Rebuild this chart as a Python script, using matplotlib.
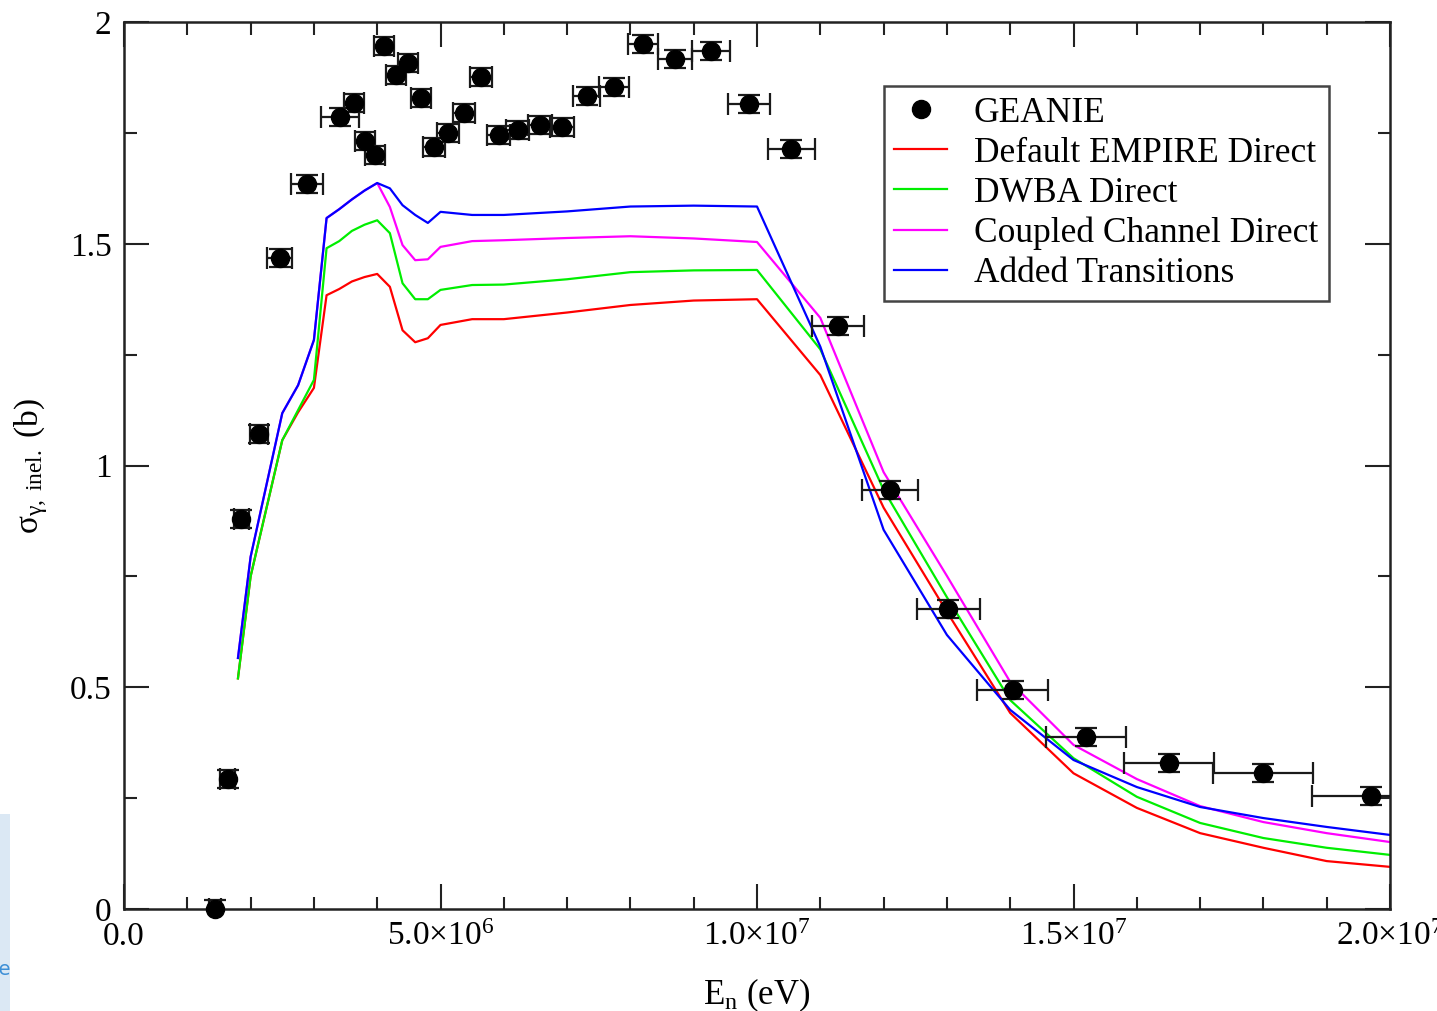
import matplotlib
matplotlib.use('Agg')
import matplotlib.pyplot as plt
from matplotlib.patches import Rectangle
from matplotlib.ticker import MultipleLocator, FixedLocator, FixedFormatter

plt.rcParams['font.family'] = 'Liberation Serif'
plt.rcParams['mathtext.fontset'] = 'custom'
plt.rcParams['mathtext.rm'] = 'Liberation Serif'
plt.rcParams['mathtext.it'] = 'Liberation Serif:italic'

# GEANIE measurement: neutron energy (MeV), half bin width (MeV), sigma (b), error (b)
geanie_e = [1.44, 1.64, 1.85, 2.13, 2.46, 2.89, 3.41, 3.63, 3.81, 3.97, 4.11, 4.30, 4.49,
            4.69, 4.90, 5.12, 5.37, 5.64, 5.92, 6.22, 6.57, 6.92, 7.31, 7.74, 8.20, 8.70,
            9.27, 9.87, 10.54, 11.28, 12.10, 13.02, 14.04, 15.20, 16.51, 18.00, 19.70]
geanie_de = [0.10, 0.12, 0.12, 0.14, 0.20, 0.25, 0.30, 0.16, 0.16, 0.16, 0.16, 0.16, 0.16,
             0.16, 0.17, 0.17, 0.17, 0.18, 0.18, 0.18, 0.19, 0.19, 0.21, 0.23, 0.24, 0.27,
             0.30, 0.33, 0.37, 0.41, 0.44, 0.50, 0.56, 0.63, 0.71, 0.79, 0.93]
geanie_sig = [0.000, 0.293, 0.879, 1.071, 1.468, 1.635, 1.786, 1.817, 1.732, 1.700, 1.946,
              1.880, 1.908, 1.829, 1.718, 1.750, 1.795, 1.876, 1.745, 1.756, 1.768, 1.763,
              1.833, 1.853, 1.950, 1.917, 1.935, 1.815, 1.714, 1.315, 0.945, 0.676, 0.494,
              0.388, 0.329, 0.307, 0.255]
geanie_dsig = [0.02] * len(geanie_e)

# EMPIRE calculations on the same energy grid (MeV)
e_calc = [1.8, 2.0, 2.5, 2.75, 3.0, 3.2, 3.4, 3.6, 3.8, 4.0, 4.2, 4.4, 4.6, 4.8, 5.0, 5.5,
          6.0, 7.0, 8.0, 9.0, 10.0, 11.0, 12.0, 13.0, 14.0, 15.0, 16.0, 17.0, 18.0, 19.0, 20.0]
sig_default = [0.52, 0.75, 1.057, 1.12, 1.175, 1.384, 1.398, 1.415, 1.425, 1.432, 1.403,
               1.305, 1.278, 1.287, 1.317, 1.330, 1.330, 1.345, 1.362, 1.372, 1.375, 1.204,
               0.905, 0.670, 0.442, 0.306, 0.228, 0.171, 0.138, 0.108, 0.095]
sig_dwba = [0.52, 0.75, 1.057, 1.125, 1.193, 1.490, 1.506, 1.529, 1.543, 1.553, 1.524,
            1.411, 1.375, 1.375, 1.396, 1.407, 1.408, 1.420, 1.436, 1.440, 1.441, 1.262,
            0.945, 0.703, 0.471, 0.340, 0.253, 0.194, 0.160, 0.138, 0.122]
sig_cc = [0.566, 0.794, 1.118, 1.181, 1.283, 1.558, 1.578, 1.600, 1.620, 1.637, 1.583,
          1.497, 1.463, 1.465, 1.493, 1.506, 1.508, 1.513, 1.517, 1.512, 1.504, 1.333,
          0.985, 0.751, 0.512, 0.370, 0.293, 0.232, 0.196, 0.171, 0.151]
sig_added = [0.566, 0.794, 1.118, 1.181, 1.283, 1.558, 1.578, 1.600, 1.620, 1.637, 1.625,
             1.587, 1.565, 1.547, 1.572, 1.565, 1.565, 1.573, 1.584, 1.586, 1.584, 1.268,
             0.855, 0.618, 0.449, 0.336, 0.275, 0.230, 0.205, 0.185, 0.167]

legend_labels = ['GEANIE', 'Default EMPIRE Direct', 'DWBA Direct',
                 'Coupled Channel Direct', 'Added Transitions']

x_ticks = [0.0, 5.0e6, 1.0e7, 1.5e7, 2.0e7]
x_ticklabels = ['0.0', r'$5.0{\times}10^{6}$', r'$1.0{\times}10^{7}$',
                r'$1.5{\times}10^{7}$', r'$2.0{\times}10^{7}$']
y_ticks = [0.0, 0.5, 1.0, 1.5, 2.0]
y_ticklabels = ['0', '0.5', '1', '1.5', '2']

MeV = 1.0e6
e_calc_ev = [e * MeV for e in e_calc]

fig = plt.figure(figsize=(14.37, 10.11), dpi=100)

# pale strip of the slide background at the lower left
fig.patches.append(Rectangle((0, 0), 0.007, 0.195, transform=fig.transFigure,
                             facecolor='#dbe8f4', edgecolor='none', zorder=0))
fig.text(0.0077, 0.036, 'ie', color='#3d8fd6', fontsize=14, ha='right',
         family='DejaVu Sans')

ax = fig.add_axes([0.0863, 0.1009, 0.881, 0.8773])

l_def, = ax.plot(e_calc_ev, sig_default, color='#ff0000', lw=1.6)
l_dwba, = ax.plot(e_calc_ev, sig_dwba, color='#00ee00', lw=1.6)
l_cc, = ax.plot(e_calc_ev, sig_cc, color='#ff00ff', lw=1.6)
l_add, = ax.plot(e_calc_ev, sig_added, color='#0000ff', lw=1.6)

eb = ax.errorbar([e * MeV for e in geanie_e], geanie_sig,
                 xerr=[d * MeV for d in geanie_de], yerr=geanie_dsig,
                 fmt='o', color='black', ms=13, ecolor='#1a1a1a', elinewidth=1.6,
                 capsize=8, capthick=1.6, zorder=5)
# markers may sit on the frame, the bars stop at it
eb[0].set_clip_on(False)

ax.set_xlim(0, 2.0e7)
ax.set_ylim(0, 2.0)

ax.xaxis.set_major_locator(FixedLocator(x_ticks))
ax.xaxis.set_major_formatter(FixedFormatter(x_ticklabels))
ax.xaxis.set_minor_locator(MultipleLocator(1.0e6))
ax.yaxis.set_major_locator(FixedLocator(y_ticks))
ax.yaxis.set_major_formatter(FixedFormatter(y_ticklabels))
ax.yaxis.set_minor_locator(MultipleLocator(0.25))

ax.tick_params(which='both', direction='in', top=True, right=True, width=1.5,
               color='#222222', labelsize=24)
ax.tick_params(which='major', length=18, pad=9)
ax.tick_params(which='minor', length=9)
for sp in ax.spines.values():
    sp.set_linewidth(1.8)
    sp.set_color('#222222')

ax.set_xlabel(r'E$_\mathrm{n}$ (eV)', fontsize=25, labelpad=18)
ax.set_ylabel(r'$\mathrm{\sigma}_{\mathrm{\gamma,\ inel.}}$ (b)', fontsize=24, labelpad=14)

leg = ax.legend([eb[0], l_def, l_dwba, l_cc, l_add], legend_labels,
                loc='upper left', bbox_to_anchor=(0.600, 0.928), borderaxespad=0,
                fontsize=25.5, frameon=True, fancybox=False, framealpha=1,
                edgecolor='#444444', handlelength=1.5, handletextpad=0.75,
                borderpad=0.3, labelspacing=0.2)
leg.get_frame().set_linewidth(1.8)

fig.savefig('out.png', dpi=100)
